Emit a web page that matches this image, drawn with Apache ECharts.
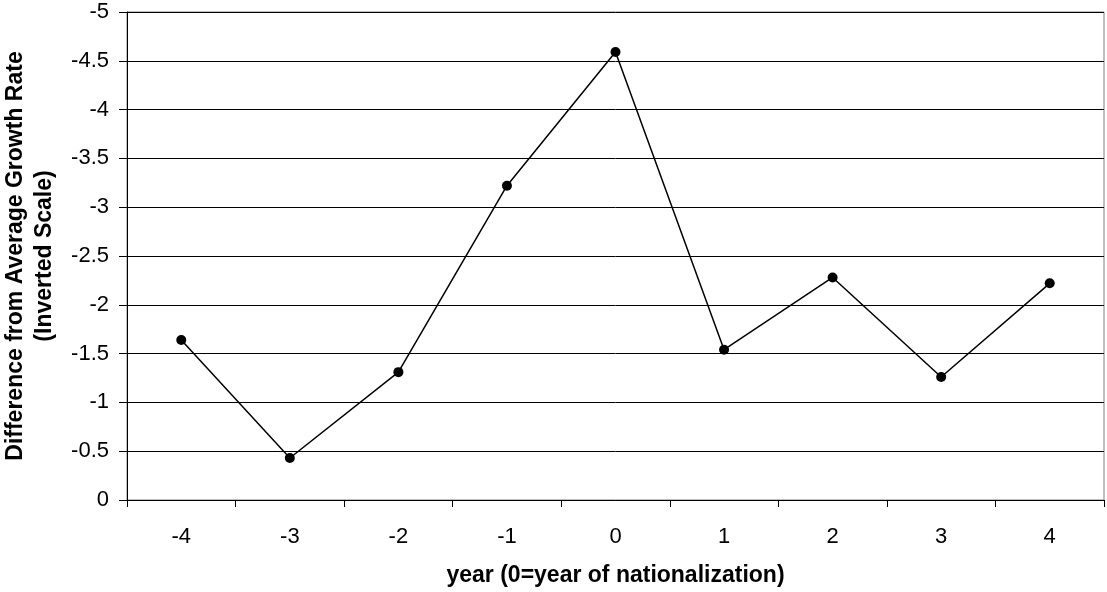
<!DOCTYPE html>
<html>
<head>
<meta charset="utf-8">
<script src="https://cdn.jsdelivr.net/npm/echarts@6/dist/echarts.min.js"></script>
<style>
html,body{margin:0;padding:0;background:#fff;}
#chart{width:1107px;height:592px;}
</style>
</head>
<body>
<div id="chart"></div>
<script>
const years = ['-4', '-3', '-2', '-1', '0', '1', '2', '3', '4'];
const diffValues = [-1.64, -0.43, -1.31, -3.22, -4.59, -1.54, -2.28, -1.26, -2.22];
const yMin = -5, yMax = 0, yStep = 0.5;
const xTitle = 'year (0=year of nationalization)';
const yTitle = 'Difference from Average Growth Rate\n(Inverted Scale)';

const chart = echarts.init(document.getElementById('chart'), null, {renderer: 'canvas'});
const font = '"Liberation Sans", Arial, sans-serif';
chart.setOption({
  animation: false,
  backgroundColor: '#ffffff',
  grid: {left: 127, right: 3, top: 12, bottom: 92, outerBoundsMode: 'none', containLabel: false,
         show: true, borderColor: '#808080', borderWidth: 1, backgroundColor: 'transparent'},
  xAxis: {
    type: 'category',
    data: years,
    boundaryGap: true,
    axisLine: {lineStyle: {color: '#000', width: 1}},
    axisTick: {show: true, length: 7, alignWithLabel: false, lineStyle: {color: '#000'}},
    axisLabel: {color: '#000', fontSize: 22, fontFamily: font, margin: 26},
    splitLine: {show: false},
    name: xTitle,
    nameLocation: 'middle',
    nameGap: 64,
    nameTextStyle: {color: '#000', fontSize: 23, fontWeight: 'bold', fontFamily: font}
  },
  yAxis: {
    type: 'value',
    inverse: true,
    min: yMin, max: yMax, interval: yStep,
    axisLine: {show: true, lineStyle: {color: '#000', width: 1}},
    axisTick: {show: true, length: 8, lineStyle: {color: '#000'}},
    axisLabel: {color: '#000', fontSize: 22, fontFamily: font, margin: 18},
    splitLine: {show: true, lineStyle: {color: '#000', width: 1}},
    name: yTitle,
    nameLocation: 'middle',
    nameGap: 68,
    nameRotate: 90,
    nameTextStyle: {color: '#000', fontSize: 23, fontWeight: 'bold', fontFamily: font, lineHeight: 29, align: 'center'}
  },
  series: [{
    type: 'line',
    data: diffValues,
    symbol: 'circle',
    symbolSize: 10,
    showAllSymbol: true,
    itemStyle: {color: '#000'},
    lineStyle: {color: '#000', width: 1.5}
  }]
});
</script>
</body>
</html>
